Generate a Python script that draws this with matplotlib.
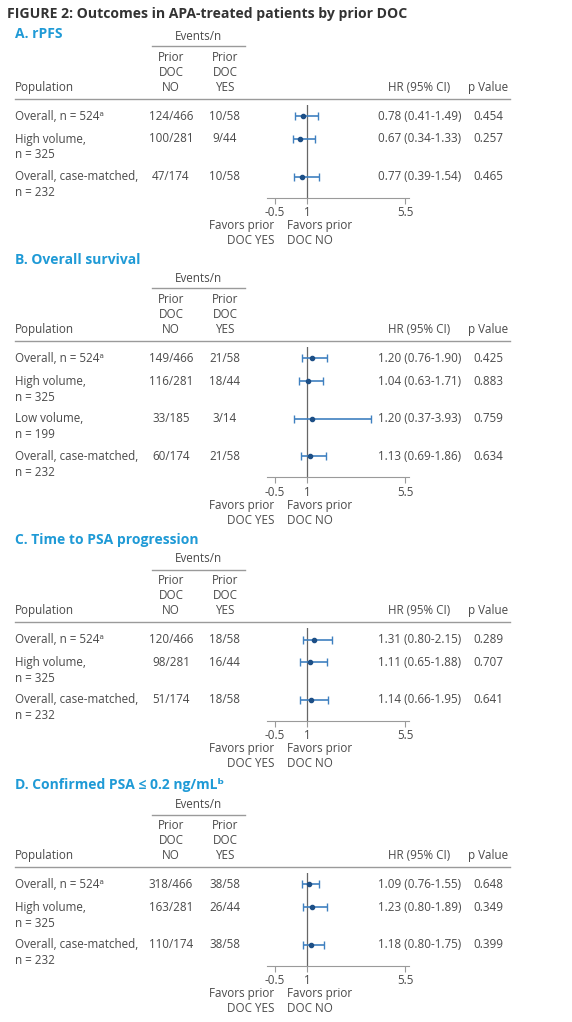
import matplotlib
matplotlib.use('Agg')
import matplotlib.pyplot as plt
from matplotlib.lines import Line2D

W, H = 572, 1022
plt.rcParams['font.family'] = ['Open Sans', 'DejaVu Sans']

# ---- data ----
fig_title = 'FIGURE 2: Outcomes in APA-treated patients by prior DOC'

rpfs_title = 'A. rPFS'
rpfs_pop = ['Overall, n = 524ᵃ', 'High volume,\nn = 325', 'Overall, case-matched,\nn = 232']
rpfs_no = ['124/466', '100/281', '47/174']
rpfs_yes = ['10/58', '9/44', '10/58']
rpfs_hr = [0.78, 0.67, 0.77]
rpfs_lo = [0.41, 0.34, 0.39]
rpfs_hi = [1.49, 1.33, 1.54]
rpfs_p = ['0.454', '0.257', '0.465']

os_title = 'B. Overall survival'
os_pop = ['Overall, n = 524ᵃ', 'High volume,\nn = 325', 'Low volume,\nn = 199', 'Overall, case-matched,\nn = 232']
os_no = ['149/466', '116/281', '33/185', '60/174']
os_yes = ['21/58', '18/44', '3/14', '21/58']
os_hr = [1.20, 1.04, 1.20, 1.13]
os_lo = [0.76, 0.63, 0.37, 0.69]
os_hi = [1.90, 1.71, 3.93, 1.86]
os_p = ['0.425', '0.883', '0.759', '0.634']

psa_title = 'C. Time to PSA progression'
psa_pop = ['Overall, n = 524ᵃ', 'High volume,\nn = 325', 'Overall, case-matched,\nn = 232']
psa_no = ['120/466', '98/281', '51/174']
psa_yes = ['18/58', '16/44', '18/58']
psa_hr = [1.31, 1.11, 1.14]
psa_lo = [0.80, 0.65, 0.66]
psa_hi = [2.15, 1.88, 1.95]
psa_p = ['0.289', '0.707', '0.641']

conf_title = 'D. Confirmed PSA ≤ 0.2 ng/mLᵇ'
conf_pop = ['Overall, n = 524ᵃ', 'High volume,\nn = 325', 'Overall, case-matched,\nn = 232']
conf_no = ['318/466', '163/281', '110/174']
conf_yes = ['38/58', '26/44', '38/58']
conf_hr = [1.09, 1.23, 1.18]
conf_lo = [0.76, 0.80, 0.80]
conf_hi = [1.55, 1.89, 1.75]
conf_p = ['0.648', '0.349', '0.399']

xticks = [-0.5, 1, 5.5]
xtick_labels = ['-0.5', '1', '5.5']

# ---- layout (pixels) ----
panels = [
    # title, title_y, events_y, pop, no, yes, hr, lo, hi, p
    (rpfs_title, 34, 36, rpfs_pop, rpfs_no, rpfs_yes, rpfs_hr, rpfs_lo, rpfs_hi, rpfs_p),
    (os_title, 260, 278, os_pop, os_no, os_yes, os_hr, os_lo, os_hi, os_p),
    (psa_title, 540, 559, psa_pop, psa_no, psa_yes, psa_hr, psa_lo, psa_hi, psa_p),
    (conf_title, 785, 804, conf_pop, conf_no, conf_yes, conf_hr, conf_lo, conf_hi, conf_p),
]

TXT = '#4a4a4a'
BLUE = '#1f9ad6'
CI_COL = '#3f80c0'
DOT_COL = '#1d4f86'
GRID = '#9a9a9a'
FS = 8.4

x_no, x_yes, x_hr, x_p = 171, 225, 419.5, 488
ax_left, ax_right = 266.7, 409
xlim = (-0.88, 5.68)

fig = plt.figure(figsize=(W / 100, H / 100), dpi=100)
fig.patch.set_facecolor('white')


def T(x, y, s, **kw):
    kw.setdefault('color', TXT)
    kw.setdefault('fontsize', FS)
    kw.setdefault('va', 'center')
    return fig.text(x / W, 1 - y / H, s, **kw)


def hline(x0, x1, y, **kw):
    fig.add_artist(Line2D([x0 / W, x1 / W], [1 - y / H, 1 - y / H], **kw))


T(7, 14, fig_title, fontsize=10.1, fontweight='bold', color='#333333', ha='left')

for title, ty, ey, pop, no, yes, hr, lo, hi, pv in panels:
    T(15, ty, title, fontsize=10, fontweight='bold', color=BLUE, ha='left')
    T(198, ey, 'Events/n', ha='center')
    hline(152, 245, ey + 10.5, color=GRID, lw=1)
    T(x_no, ey + 21.5, 'Prior', ha='center')
    T(x_no, ey + 36.5, 'DOC', ha='center')
    T(x_no, ey + 51.5, 'NO', ha='center')
    T(x_yes, ey + 21.5, 'Prior', ha='center')
    T(x_yes, ey + 36.5, 'DOC', ha='center')
    T(x_yes, ey + 51.5, 'YES', ha='center')
    T(15, ey + 51.5, 'Population', ha='left')
    T(x_hr, ey + 51.5, 'HR (95% CI)', ha='center')
    T(x_p, ey + 51.5, 'p Value', ha='center')
    head_y = ey + 63
    hline(15, 510, head_y, color=GRID, lw=1)

    # row positions
    ys = []
    y = head_y + 17.5
    for lab in pop:
        ys.append(y)
        y += 37.7 if '\n' in lab else 22.5
    axis_y = ys[-1] + 21

    for i in range(len(pop)):
        lines = pop[i].split('\n')
        for k, ln in enumerate(lines):
            T(15, ys[i] + 16 * k, ln, ha='left')
        T(x_no, ys[i], no[i], ha='center')
        T(x_yes, ys[i], yes[i], ha='center')
        T(x_hr, ys[i], '%.2f (%.2f-%.2f)' % (hr[i], lo[i], hi[i]), ha='center')
        T(x_p, ys[i], pv[i], ha='center')

    top = head_y + 6
    ax = fig.add_axes([ax_left / W, 1 - axis_y / H, (ax_right - ax_left) / W, (axis_y - top) / H])
    ax.set_xlim(*xlim)
    ax.set_ylim(axis_y, top)
    ax.patch.set_alpha(0)
    ax.axvline(1, color='#666666', lw=0.9)
    err = [[h - l for h, l in zip(hr, lo)], [u - h for h, u in zip(hr, hi)]]
    ax.errorbar(hr, ys, xerr=err, fmt='o', ms=3, color=DOT_COL, ecolor=CI_COL,
                elinewidth=1.2, capsize=3, capthick=1)
    for s in ['top', 'left', 'right']:
        ax.spines[s].set_visible(False)
    ax.spines['bottom'].set_color(GRID)
    ax.set_yticks([])
    ax.set_xticks(xticks)
    ax.set_xticklabels(xtick_labels)
    ax.tick_params(axis='x', length=4, color=GRID, labelcolor=TXT, labelsize=FS, pad=2)

    T(274, axis_y + 28, 'Favors prior', ha='right')
    T(274, axis_y + 43, 'DOC YES', ha='right')
    T(287, axis_y + 28, 'Favors prior', ha='left')
    T(287, axis_y + 43, 'DOC NO', ha='left')

fig.savefig('out.png', dpi=100)
